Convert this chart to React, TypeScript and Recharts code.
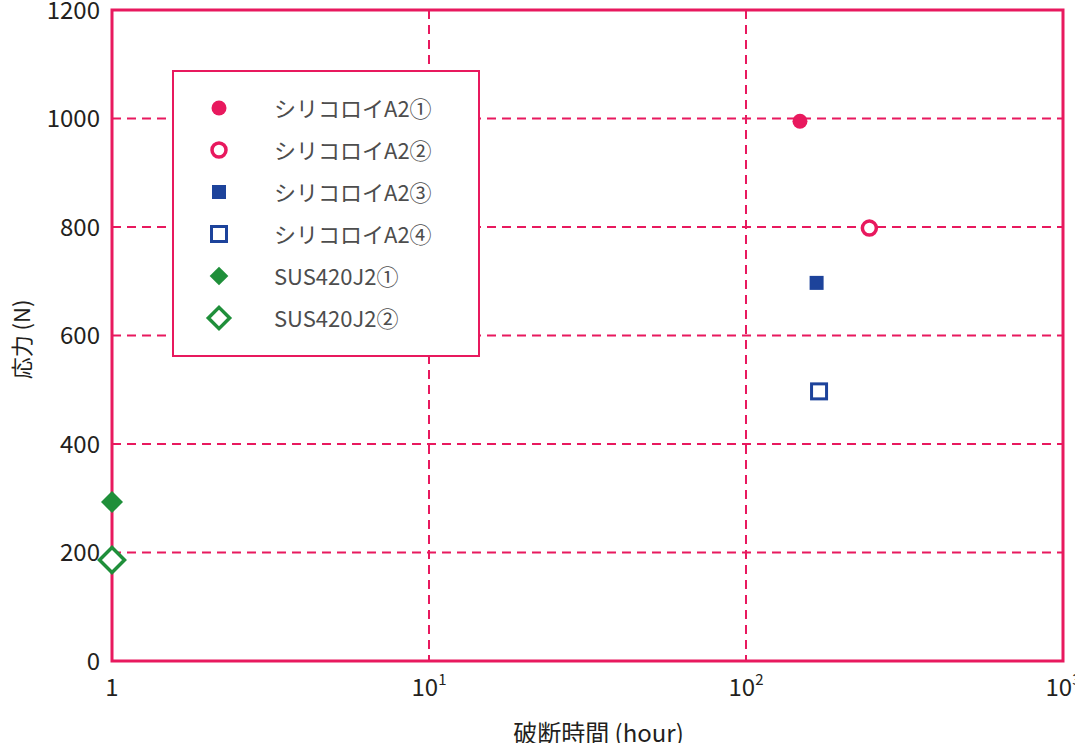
import { ScatterChart, Scatter, XAxis, YAxis, CartesianGrid, ReferenceArea, Legend } from 'recharts';

const seriesNames = ['シリコロイA2①', 'シリコロイA2②', 'シリコロイA2③', 'シリコロイA2④', 'SUS420J2①', 'SUS420J2②'];
const hours = [148, 245, 167, 170, 1, 1];
const stress = [995, 798, 697, 497, 293, 186];
const xTicks = [1, 10, 100, 1000];
const yTicks = [0, 200, 400, 600, 800, 1000, 1200];

const PINK = '#e8195e';
const BLUE = '#1d439b';
const GREEN = '#1f8f3a';
const FONT = '"Noto Sans CJK JP", "Noto Sans", sans-serif';

type MarkerKind = 'dot' | 'ring' | 'square' | 'openSquare' | 'diamond' | 'openDiamond';
const markers: MarkerKind[] = ['dot', 'ring', 'square', 'openSquare', 'diamond', 'openDiamond'];
const markerColors = [PINK, PINK, BLUE, BLUE, GREEN, GREEN];

function Marker({ kind, color, cx, cy, scale = 1 }: { kind: MarkerKind; color: string; cx: number; cy: number; scale?: number }) {
  switch (kind) {
    case 'dot':
      return <circle cx={cx} cy={cy} r={7.5 * scale} fill={color} />;
    case 'ring':
      return <circle cx={cx} cy={cy} r={7 * scale} fill="#fff" stroke={color} strokeWidth={3.5} />;
    case 'square':
      return <rect x={cx - 7 * scale} y={cy - 7 * scale} width={14 * scale} height={14 * scale} fill={color} />;
    case 'openSquare':
      return <rect x={cx - 7.5 * scale} y={cy - 7.5 * scale} width={15 * scale} height={15 * scale} fill="#fff" stroke={color} strokeWidth={3} />;
    case 'diamond': {
      const r = 11 * scale;
      return <polygon points={`${cx},${cy - r} ${cx + r},${cy} ${cx},${cy + r} ${cx - r},${cy}`} fill={color} />;
    }
    case 'openDiamond': {
      const r = 12.5 * scale;
      return <polygon points={`${cx},${cy - r} ${cx + r},${cy} ${cx},${cy + r} ${cx - r},${cy}`} fill="#fff" stroke={color} strokeWidth={3.5} />;
    }
  }
}

function XTick(props: any) {
  const { x, y, payload } = props;
  const v: number = payload.value;
  if (v === 1) {
    return (
      <text x={x} y={y + 33} textAnchor="middle" fontSize={24} fontFamily={FONT} fill="#231f20">1</text>
    );
  }
  const exp = Math.round(Math.log10(v));
  return (
    <text x={x} y={y + 33} textAnchor="middle" fontSize={24} fontFamily={FONT} fill="#231f20">
      10<tspan fontSize={15} dy={-11}>{exp}</tspan>
    </text>
  );
}

function LegendBox() {
  return (
    <div
      style={{
        width: 304,
        height: 283,
        border: `2px solid ${PINK}`,
        background: '#fff',
        position: 'relative',
        fontFamily: FONT,
      }}
    >
      {seriesNames.map((name, i) => (
        <div key={name} style={{ position: 'absolute', left: 0, top: 36 + i * 42 - 15, height: 30, width: 300 }}>
          <svg width={40} height={30} style={{ position: 'absolute', left: 25, top: 0 }}>
            <Marker kind={markers[i]} color={markerColors[i]} cx={20} cy={15} scale={markers[i].includes('iamond') ? 0.85 : 1} />
          </svg>
          <span style={{ position: 'absolute', left: 100, top: -1, lineHeight: '30px', fontSize: 22, color: '#4d4d4d', whiteSpace: 'nowrap' }}>
            {name}
          </span>
        </div>
      ))}
    </div>
  );
}

export default function App() {
  const seriesData = seriesNames.map((name, i) => [{ hour: hours[i], stress: stress[i] }]);
  return (
    <div style={{ position: 'absolute', left: 0, top: 0, width: 1075, height: 743, background: '#fff' }}>
      <ScatterChart width={1075} height={743} margin={{ top: 10, right: 12, bottom: 0, left: 0 }}>
        <CartesianGrid stroke={PINK} strokeWidth={2} strokeDasharray="9 6" />
        <XAxis
          type="number"
          dataKey="hour"
          scale="log"
          domain={[1, 1000]}
          ticks={xTicks}
          height={82}
          axisLine={false}
          tickLine={false}
          tickSize={0}
          tick={<XTick />}
          interval={0}
          label={{
            content: (p: any) => {
              const vb = p.viewBox;
              return (
                <text x={vb.x + vb.width / 2 + 11} y={731} textAnchor="middle" dominantBaseline="central" fontSize={24} fontFamily={FONT} fill="#231f20">
                  破断時間 (hour)
                </text>
              );
            },
          }}
        />
        <YAxis
          type="number"
          dataKey="stress"
          domain={[0, 1200]}
          ticks={yTicks}
          width={112}
          axisLine={false}
          tickLine={false}
          tickSize={0}
          tickMargin={12}
          interval={0}
          tick={{ fontSize: 24, fontFamily: FONT, fill: '#231f20' }}
          label={{
            content: (p: any) => {
              const vb = p.viewBox;
              const cy = vb.y + vb.height / 2 + 4;
              return (
                <text x={20} y={cy} transform={`rotate(-90 20 ${cy})`} textAnchor="middle" dominantBaseline="central" fontSize={22} fontFamily={FONT} fill="#231f20">
                  応力 (N)
                </text>
              );
            },
          }}
        />
        <ReferenceArea x1={1} x2={1000} y1={0} y2={1200} fill="none" fillOpacity={0} stroke={PINK} strokeWidth={3} ifOverflow="visible" />
        <Legend
          layout="horizontal"
          verticalAlign="middle"
          align="center"
          content={() => <LegendBox />}
          wrapperStyle={{ position: 'absolute', left: 172, top: 70, width: 308, height: 287 }}
        />
        {seriesNames.map((name, i) => (
          <Scatter
            key={name}
            name={name}
            data={seriesData[i]}
            fill={markerColors[i]}
            isAnimationActive={false}
            shape={(p: any) => <Marker kind={markers[i]} color={markerColors[i]} cx={p.cx} cy={p.cy} />}
          />
        ))}
      </ScatterChart>
    </div>
  );
}
